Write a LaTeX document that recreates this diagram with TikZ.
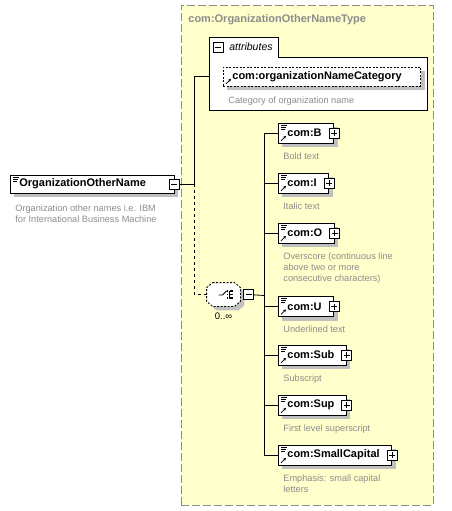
\documentclass[tikz,border=0pt]{standalone}
\usepackage{fontspec}
\setmainfont{Liberation Sans}
\usetikzlibrary{positioning,shadows,arrows.meta}
\definecolor{typefill}{HTML}{FFFFCC}
\definecolor{typeline}{HTML}{8C8C8C}
\definecolor{descgray}{HTML}{8C8C8C}
\definecolor{shadowgray}{HTML}{C0C0C0}
% octagon round a node, for the sequence box
\newcommand\octpath[1]{([xshift=6pt]#1.north west) -- ([xshift=-6pt]#1.north east)
  -- ([yshift=-5pt]#1.north east) -- ([yshift=5pt]#1.south east) -- ([xshift=-6pt]#1.south east)
  -- ([xshift=6pt]#1.south west) -- ([yshift=5pt]#1.south west) -- ([yshift=-5pt]#1.north west) -- cycle}
\begin{document}
\begin{tikzpicture}[x=1pt,y=-1pt,line width=0.8pt,
  elem/.style={draw,fill=white,anchor=west,minimum height=20pt,inner sep=0pt,
    execute at begin node=\hspace*{9pt},execute at end node=\hspace*{12pt},
    font=\bfseries\fontsize{11}{13}\selectfont,
    drop shadow={shadow xshift=4pt,shadow yshift=-4pt,fill=shadowgray,opacity=1}},
  descr/.style={anchor=north west,inner sep=0pt,align=left,text=descgray,
    font=\fontsize{9.2}{11}\selectfont},
  minusbox/.style={draw,fill=white,minimum size=10pt,inner sep=0pt,
    path picture={\draw ([xshift=2pt]path picture bounding box.west) -- ([xshift=-2pt]path picture bounding box.east);}},
  plusbox/.style={draw,fill=white,minimum size=10pt,inner sep=0pt,
    path picture={\draw ([xshift=2pt]path picture bounding box.west) -- ([xshift=-2pt]path picture bounding box.east);
      \draw ([yshift=-2pt]path picture bounding box.north) -- ([yshift=2pt]path picture bounding box.south);}},
  seqbox/.style={minimum width=33pt,minimum height=23pt,inner sep=0pt}]
  \useasboundingbox (0,0) rectangle (451,511);
  % complex type
  \node[draw=typeline,fill=typefill,dash pattern=on 8pt off 3pt,anchor=north west,
    minimum width=252pt,minimum height=500pt,inner sep=0pt] (typebox) at (181,5) {};
  \node[anchor=north west,inner sep=0pt,text=typeline,font=\bfseries\fontsize{11}{13}\selectfont]
    (typetitle) at (188,14) {com:OrganizationOtherNameType};
  % attributes
  \node[fill=white,anchor=north west,minimum width=218pt,minimum height=53pt,inner sep=0pt]
    (attrbox) at (209,57) {};
  \node[fill=white,anchor=south west,minimum height=19pt,inner sep=0pt,
    execute at begin node=\hspace*{20pt},execute at end node=\hspace*{5pt},
    font=\itshape\fontsize{10.5}{12}\selectfont] (attrtab) at (attrbox.north west) {attributes};
  \draw (attrtab.north west) -- (attrtab.north east) -- (attrtab.south east) -- (attrbox.north east)
    -- (attrbox.south east) -- (attrbox.south west) -- cycle;
  \node[minusbox] (attrm) at ([xshift=9pt]attrtab.west) {};
  \node[elem,dash pattern=on 2pt off 1.5pt,minimum height=19pt,execute at end node=\hspace*{7pt}]
    (attr) at (223,76.5) {com:organizationNameCategory};
  \node[descr,below right=10pt and 5pt of attr.south west] (attrdesc) {Category of organization name};
  % element
  \node[elem,minimum height=18pt,execute at end node=\hspace*{16pt}] (main) at (10,184) {OrganizationOtherName};
  \node[minusbox] (mainm) at (main.east) {};
  \node[descr,below right=11pt and 5pt of main.south west] (maindesc)
    {Organization other names i.e. IBM\\for International Business Machine};
  % sequence
  \node[seqbox] (seqshadow) at (227.5,298.5) {};
  \node[seqbox] (seq) at (223.5,294.5) {};
  \fill[shadowgray] \octpath{seqshadow};
  \draw[fill=white,dash pattern=on 2pt off 1.5pt] \octpath{seq};
  \node[minusbox,right=3pt of seq.east] (seqm) {};
  \node[inner sep=0pt,font=\fontsize{9.5}{11}\selectfont,below=6pt of seq] (seqcard) {0..∞};
  \draw ([shift={(-5,0.5)}]seq.center) -- ++(4,0) -- ++(4,-4);
  \draw ([shift={(5.5,-4)}]seq.center) -- ++(0,8);
  \foreach \dy in {-3.5,0,3.5}{
    \fill ([shift={(6,\dy-0.8)}]seq.center) rectangle ++(3.5,1.6);
    \fill ([shift={(3,\dy-0.6)}]seq.center) rectangle ++(1.2,1.2);}
  % children
  \node[elem] (b) at (278,133) {com:B};
  \node[plusbox] (bp) at (b.east) {};
  \node[descr,below right=9pt and 5pt of b.south west] (bdesc) {Bold text};
  \node[elem] (i) at (278,183) {com:I};
  \node[plusbox] (ip) at (i.east) {};
  \node[descr,below right=9pt and 5pt of i.south west] (idesc) {Italic text};
  \node[elem] (o) at (278,233) {com:O};
  \node[plusbox] (op) at (o.east) {};
  \node[descr,below right=9pt and 5pt of o.south west] (odesc)
    {Overscore (continuous line\\above two or more\\consecutive characters)};
  \node[elem] (u) at (278,306.5) {com:U};
  \node[plusbox] (up) at (u.east) {};
  \node[descr,below right=9pt and 5pt of u.south west] (udesc) {Underlined text};
  \node[elem] (sub) at (278,355) {com:Sub};
  \node[plusbox] (subp) at (sub.east) {};
  \node[descr,below right=9pt and 5pt of sub.south west] (subdesc) {Subscript};
  \node[elem] (sup) at (278,405) {com:Sup};
  \node[plusbox] (supp) at (sup.east) {};
  \node[descr,below right=9pt and 5pt of sup.south west] (supdesc) {First level superscript};
  \node[elem] (sc) at (278,455) {com:SmallCapital};
  \node[plusbox] (scp) at (sc.east) {};
  \node[descr,below right=9pt and 5pt of sc.south west] (scdesc) {Emphasis: small capital\\letters};
  % icons
  \foreach \n in {main,b,i,o,u,sub,sup,sc}
    \foreach \dy/\len in {2.5/6,4.5/5,6.5/4}
      \draw[line width=0.7pt] ([shift={(3,\dy)}]\n.north west) -- ++(\len,0);
  \foreach \n in {attr,b,i,o,u,sub,sup,sc}
    \draw[-{Stealth[length=3pt,width=3pt]}] ([shift={(3,-2.5)}]\n.south west) -- ++(5,-5);
  % connectors
  \coordinate (j1) at (194,184);
  \coordinate (j2) at (264,295.5);
  \draw (mainm) -- (j1);
  \draw (j1) |- (attr.west -| attrbox.west);
  \draw[dash pattern=on 3pt off 3pt] (j1) |- (seq.west);
  \draw (seqm) -- (j2);
  \draw (b.west -| j2) -- (sc.west -| j2);
  \foreach \n in {b,i,o,u,sub,sup,sc}
    \draw (\n.west -| j2) -- (\n.west);
\end{tikzpicture}
\end{document}
